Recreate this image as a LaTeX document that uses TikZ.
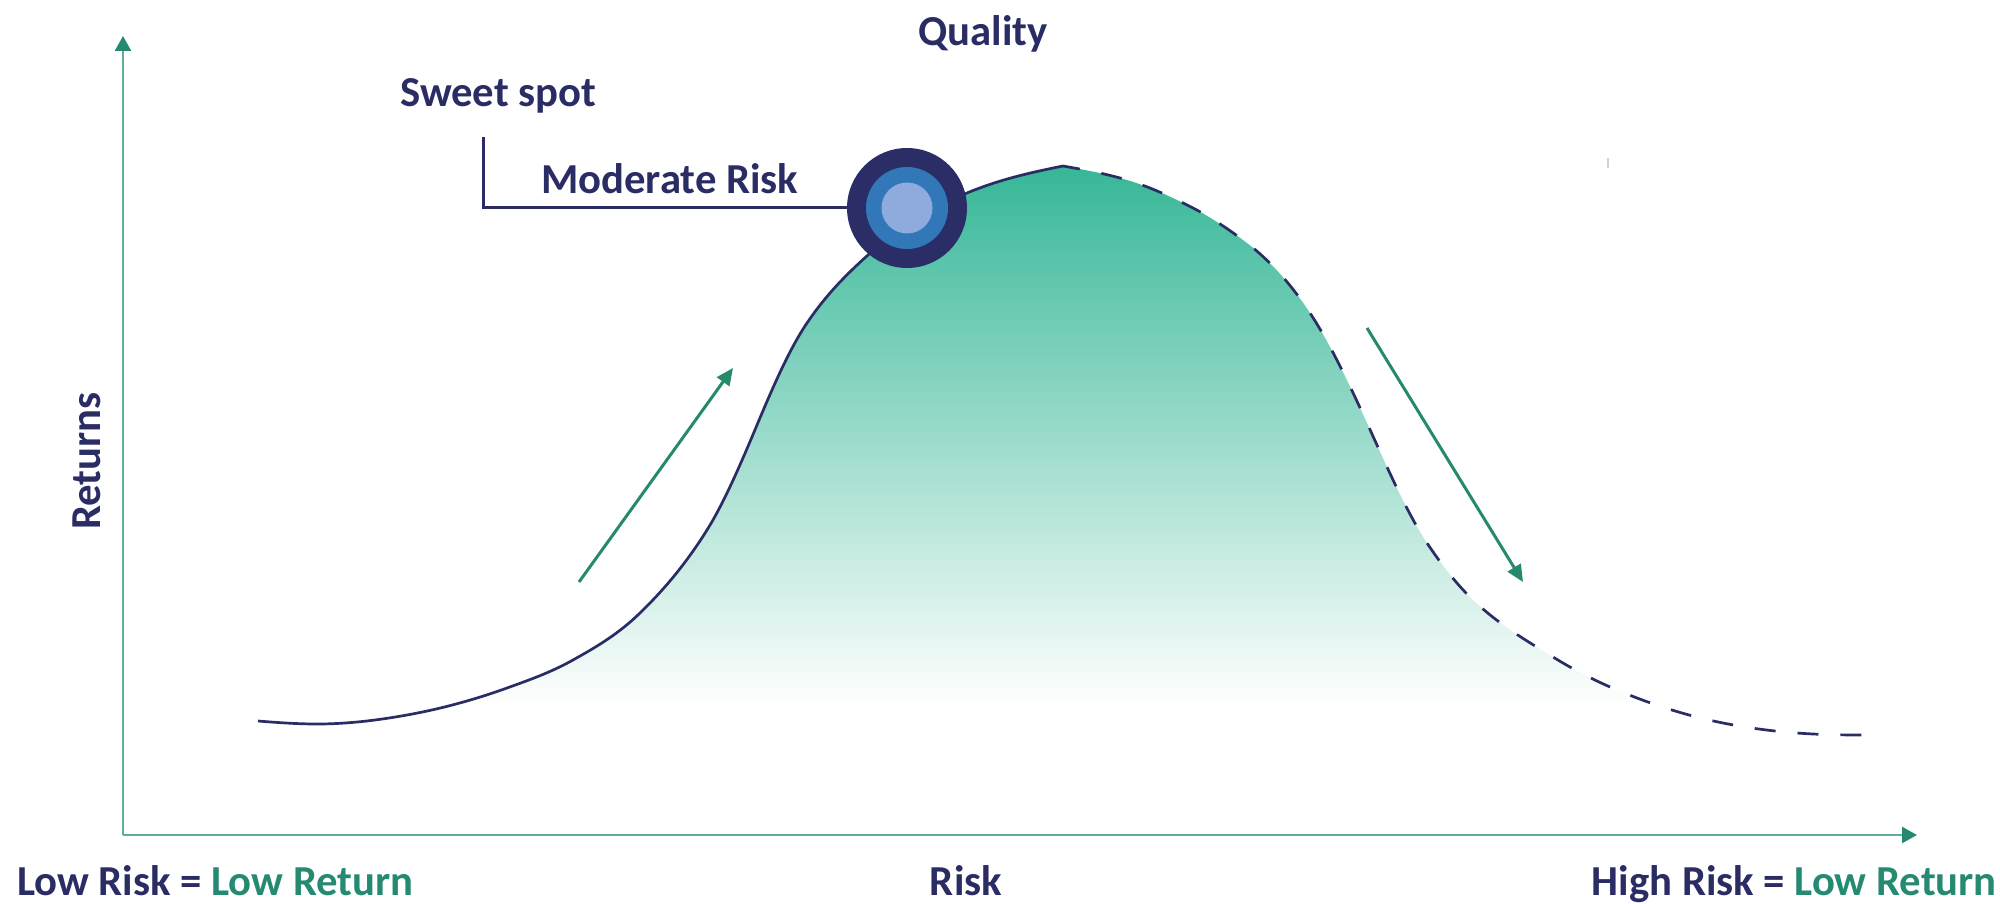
\documentclass[tikz,border=0pt]{standalone}
\usepackage{fontspec}
\setmainfont{Carlito}
\usetikzlibrary{arrows.meta}
\definecolor{navy}{HTML}{2A2C64}
\definecolor{tealax}{HTML}{5FAE9D}
\definecolor{tealdk}{HTML}{25896F}
\definecolor{tealfill}{HTML}{36B797}
\definecolor{ringout}{HTML}{2A2D66}
\definecolor{ringmid}{HTML}{3278B8}
\definecolor{ringin}{HTML}{8FAADC}
\definecolor{greentxt}{HTML}{258A71}
\pgfdeclareverticalshading{areafade}{100bp}{color(0bp)=(white); color(28bp)=(white); color(74.5bp)=(tealfill); color(100bp)=(tealfill)}
% rising (solid) part of the curve
\def\risepath{(258,721)
  .. controls (277.7,722.6) and (297.3,724) .. (317,724)
  .. controls (347,724) and (377,720.4) .. (407,715)
  .. controls (440.3,709) and (473.7,700) .. (507,688)
  .. controls (529,680.1) and (551,672.3) .. (573,660)
  .. controls (595.3,647.5) and (617.7,634.7) .. (640,613)
  .. controls (662.3,591.3) and (684.7,565.7) .. (707,530)
  .. controls (723.7,503.3) and (740.3,465) .. (757,425)
  .. controls (773.7,385) and (790.3,347.5) .. (807,323)
  .. controls (827.3,293.1) and (847.7,273.3) .. (868,255)
  .. controls (901,225.3) and (934,206.9) .. (967,193)
  .. controls (999,179.6) and (1031,172.4) .. (1063,166)}
% falling (dashed) part of the curve
\def\fallpath{(1063,166)
  .. controls (1084.3,169.8) and (1105.7,173.6) .. (1127,180)
  .. controls (1149,186.6) and (1171,196.6) .. (1193,208)
  .. controls (1209.7,216.7) and (1226.3,227.7) .. (1243,240)
  .. controls (1265.3,256.5) and (1287.7,279.1) .. (1310,313)
  .. controls (1329,341.9) and (1348,381.2) .. (1367,423)
  .. controls (1387,467) and (1407,513) .. (1427,543)
  .. controls (1442.3,566) and (1457.7,585.4) .. (1473,600)
  .. controls (1499.7,625.3) and (1526.3,640.5) .. (1553,657)
  .. controls (1581,674.4) and (1609,687.4) .. (1637,698)
  .. controls (1665.7,708.9) and (1694.3,717.3) .. (1723,723)
  .. controls (1753,729) and (1783,732.5) .. (1813,734)
  .. controls (1831.3,734.9) and (1849.7,735) .. (1868,735)}
\begin{document}
\begin{tikzpicture}[x=1pt,y=-1pt,
  lbl/.style={font=\fontsize{42.7}{50}\selectfont\bfseries, text=navy, inner sep=0pt},
  axis/.style={line width=2.5pt, draw=tealax, -{Triangle[length=15pt,width=16pt,color=tealdk]}},
  trend/.style={line width=3pt, draw=tealdk, -{Triangle[length=17pt,width=15pt]}},
  curve/.style={line width=2.7pt, draw=navy},
  ring/.style={circle, inner sep=0pt},
]
\useasboundingbox (0,0) rectangle (2000,904);

% axes
\coordinate (origin) at (123,835);
\coordinate (ytip) at (123,36);
\coordinate (xtip) at (1917,835);
\draw[axis] (origin) -- (ytip);
\draw[axis] (origin) -- (xtip);

% faint tick
\draw[gray!35, line width=1.5pt] (1608,158) -- (1608,168);

% gradient area under the curve
\begin{scope}
  \clip \risepath -- \fallpath -- cycle;
  \shade[shading=areafade] (0,160) rectangle (2000,740);
\end{scope}

% curve
\draw[curve] \risepath;
\draw[curve, dash pattern=on 21pt off 22pt, dash phase=4pt] \fallpath;

% trend arrows
\coordinate (upS) at (579,582);
\coordinate (upE) at (733,368);
\draw[trend] (upS) -- (upE);
\coordinate (dnS) at (1367,328);
\coordinate (dnE) at (1523,582);
\draw[trend] (dnS) -- (dnE);

% sweet spot marker
\coordinate (bk) at (483,137);
\coordinate (spotpos) at (907,208);
\path (spotpos) node[ring, minimum size=120pt] (spot) {};
\draw[navy, line width=3pt] (bk) |- (spot.west);
\node[ring, fill=ringout, minimum size=120pt] (spotout) at (spotpos) {};
\node[ring, fill=ringmid, minimum size=82pt] (spotmid) at (spotpos) {};
\node[ring, fill=ringin, minimum size=51pt] (spotin) at (spotpos) {};

% labels
\node[lbl, anchor=base] (quality) at (983,46) {Quality};
\node[lbl, anchor=base west] (sweet) at (400,107) {Sweet spot};
\node[lbl, anchor=base west] (moderate) at (541,194) {Moderate Risk};
\node[lbl, rotate=90, anchor=center] (returns) at (87,461) {Returns};
\node[lbl, anchor=base] (risk) at (966,895) {Risk};
\node[lbl, anchor=base west] (lowrisk) at (17,895) {Low Risk = {\color{greentxt}Low Return}};
\node[lbl, anchor=base east] (highrisk) at (1997,895) {High Risk = {\color{greentxt}Low Return}};
\end{tikzpicture}
\end{document}
